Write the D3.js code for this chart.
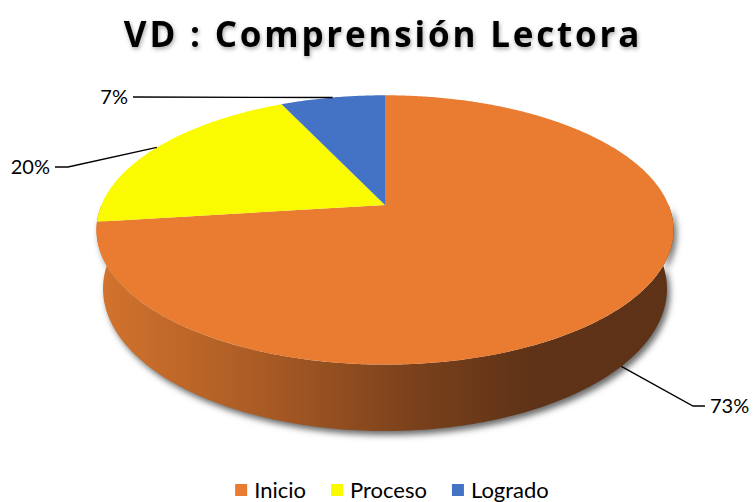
<!DOCTYPE html>
<html>
<head>
<meta charset="utf-8">
<script src="https://cdn.jsdelivr.net/npm/d3@7"></script>
<style>
  body { margin: 0; background: #fff; }
  svg { display: block; }
</style>
</head>
<body>
<div id="chart"></div>
<script>
const categories = ["Inicio", "Proceso", "Logrado"];
const values = [73, 20, 7];
const labels = ["73%", "20%", "7%"];
const colors = ["#E97C31", "#FAFA00", "#4472C4"];
const title = "VD : Comprensión Lectora";

const W = 753, H = 502;
const FONT = "Lato, 'Open Sans', sans-serif";

// perspective camera for the tilted disc (fitted to the picture)
const cam = { cx: 385, cy: 205, f: 1361, D: 4.8, tilt: 27.3 * Math.PI / 180, h: 0.235 };
const cT = Math.cos(cam.tilt), sT = Math.sin(cam.tilt);

function project(r, theta, Y) {
    const X = r * Math.sin(theta), Z = r * Math.cos(theta);
    const yp = Y * cT + Z * sT;
    const depth = cam.D + Z * cT - Y * sT;
    return [cam.cx + cam.f * X / depth, cam.cy - cam.f * yp / depth];
}

function arcPoints(a0, a1, Y) {
    const n = Math.max(4, Math.ceil((a1 - a0) / 0.01));
    return d3.range(n + 1).map(i => project(1, a0 + (a1 - a0) * i / n, Y));
}

const line = d3.line();

const svg = d3.select("#chart").append("svg")
    .attr("width", W)
    .attr("height", H);

const defs = svg.append("defs");

const sideGrad = defs.append("linearGradient")
    .attr("id", "sideGrad")
    .attr("gradientUnits", "userSpaceOnUse")
    .attr("x1", 96).attr("x2", 674).attr("y1", 0).attr("y2", 0);
[[0, "#D4742E"], [0.3, "#A75A24"], [0.55, "#7A411B"], [0.75, "#5F3317"], [1, "#5E3216"]]
    .forEach(s => sideGrad.append("stop").attr("offset", s[0]).attr("stop-color", s[1]));

defs.append("filter").attr("id", "blur").attr("x", "-10%").attr("y", "-10%").attr("width", "120%").attr("height", "130%")
    .append("feGaussianBlur").attr("stdDeviation", 3);

const tf = defs.append("filter").attr("id", "tshadow").attr("x", "-5%").attr("y", "-20%").attr("width", "110%").attr("height", "150%");
tf.append("feDropShadow").attr("dx", 1).attr("dy", 2).attr("stdDeviation", 2).attr("flood-color", "#000").attr("flood-opacity", 0.35);

// title
svg.append("text")
    .attr("x", 383)
    .attr("y", 47)
    .attr("text-anchor", "middle")
    .attr("font-family", "'Open Sans', sans-serif")
    .attr("font-weight", "bold")
    .attr("font-size", 35)
    .attr("letter-spacing", 2.8)
    .attr("fill", "#000")
    .attr("filter", "url(#tshadow)")
    .text(title);

const pie = d3.pie().sort(null).value(d => d)(values);

// side wall (front half)
const sideTop = arcPoints(Math.PI / 2, 3 * Math.PI / 2, 0);
const sideBot = arcPoints(Math.PI / 2, 3 * Math.PI / 2, -cam.h).reverse();
const sidePath = line(sideTop.concat(sideBot)) + "Z";

// shadow
svg.append("path")
    .attr("d", sidePath)
    .attr("transform", "translate(3,4)")
    .attr("fill", "#6a6a6a")
    .attr("filter", "url(#blur)");

svg.append("path")
    .attr("d", sidePath)
    .attr("fill", "url(#sideGrad)");

// top surface
svg.append("g").selectAll("path")
    .data(pie)
    .enter()
    .append("path")
    .attr("d", d => line([project(0, 0, 0)].concat(arcPoints(d.startAngle, d.endAngle, 0))) + "Z")
    .attr("fill", (d, i) => colors[i]);

// data labels with leader lines
const labelLayout = [
    { elbow: [693, 406], end: [705, 406], anchor: "start", dx: 5 },
    { elbow: [68, 167], end: [55, 167], anchor: "end", dx: -5 },
    { elbow: [133, 97], end: [133, 97], anchor: "end", dx: -5 }
];

const lab = svg.append("g");
pie.forEach((d, i) => {
    const mid = (d.startAngle + d.endAngle) / 2;
    const start = project(1, mid, Math.cos(mid) < 0 ? -cam.h : 0);
    const L = labelLayout[i];
    lab.append("path")
        .attr("d", line([start, L.elbow, L.end]))
        .attr("fill", "none")
        .attr("stroke", "#000")
        .attr("stroke-width", 1.3);
    lab.append("text")
        .attr("x", L.end[0] + L.dx)
        .attr("y", L.end[1])
        .attr("dy", "0.35em")
        .attr("text-anchor", L.anchor)
        .attr("font-family", FONT)
        .attr("font-size", 20)
        .attr("fill", "#000")
        .text(labels[i]);
});

// legend
const legend = svg.append("g");
const items = legend.selectAll("g")
    .data(categories)
    .enter()
    .append("g");
items.append("rect")
    .attr("width", 12).attr("height", 12)
    .attr("y", -6)
    .attr("fill", (d, i) => colors[i]);
items.append("text")
    .attr("x", 19)
    .attr("dy", "0.35em")
    .attr("font-family", FONT)
    .attr("font-size", 22)
    .attr("fill", "#000")
    .text(d => d);

let x = 0;
const offs = [];
items.each(function () {
    offs.push(x);
    x += 19 + this.querySelector("text").getComputedTextLength() + 25;
});
const total = x - 25;
const x0 = 392 - total / 2;
items.attr("transform", (d, i) => `translate(${x0 + offs[i]},490)`);
</script>
</body>
</html>
